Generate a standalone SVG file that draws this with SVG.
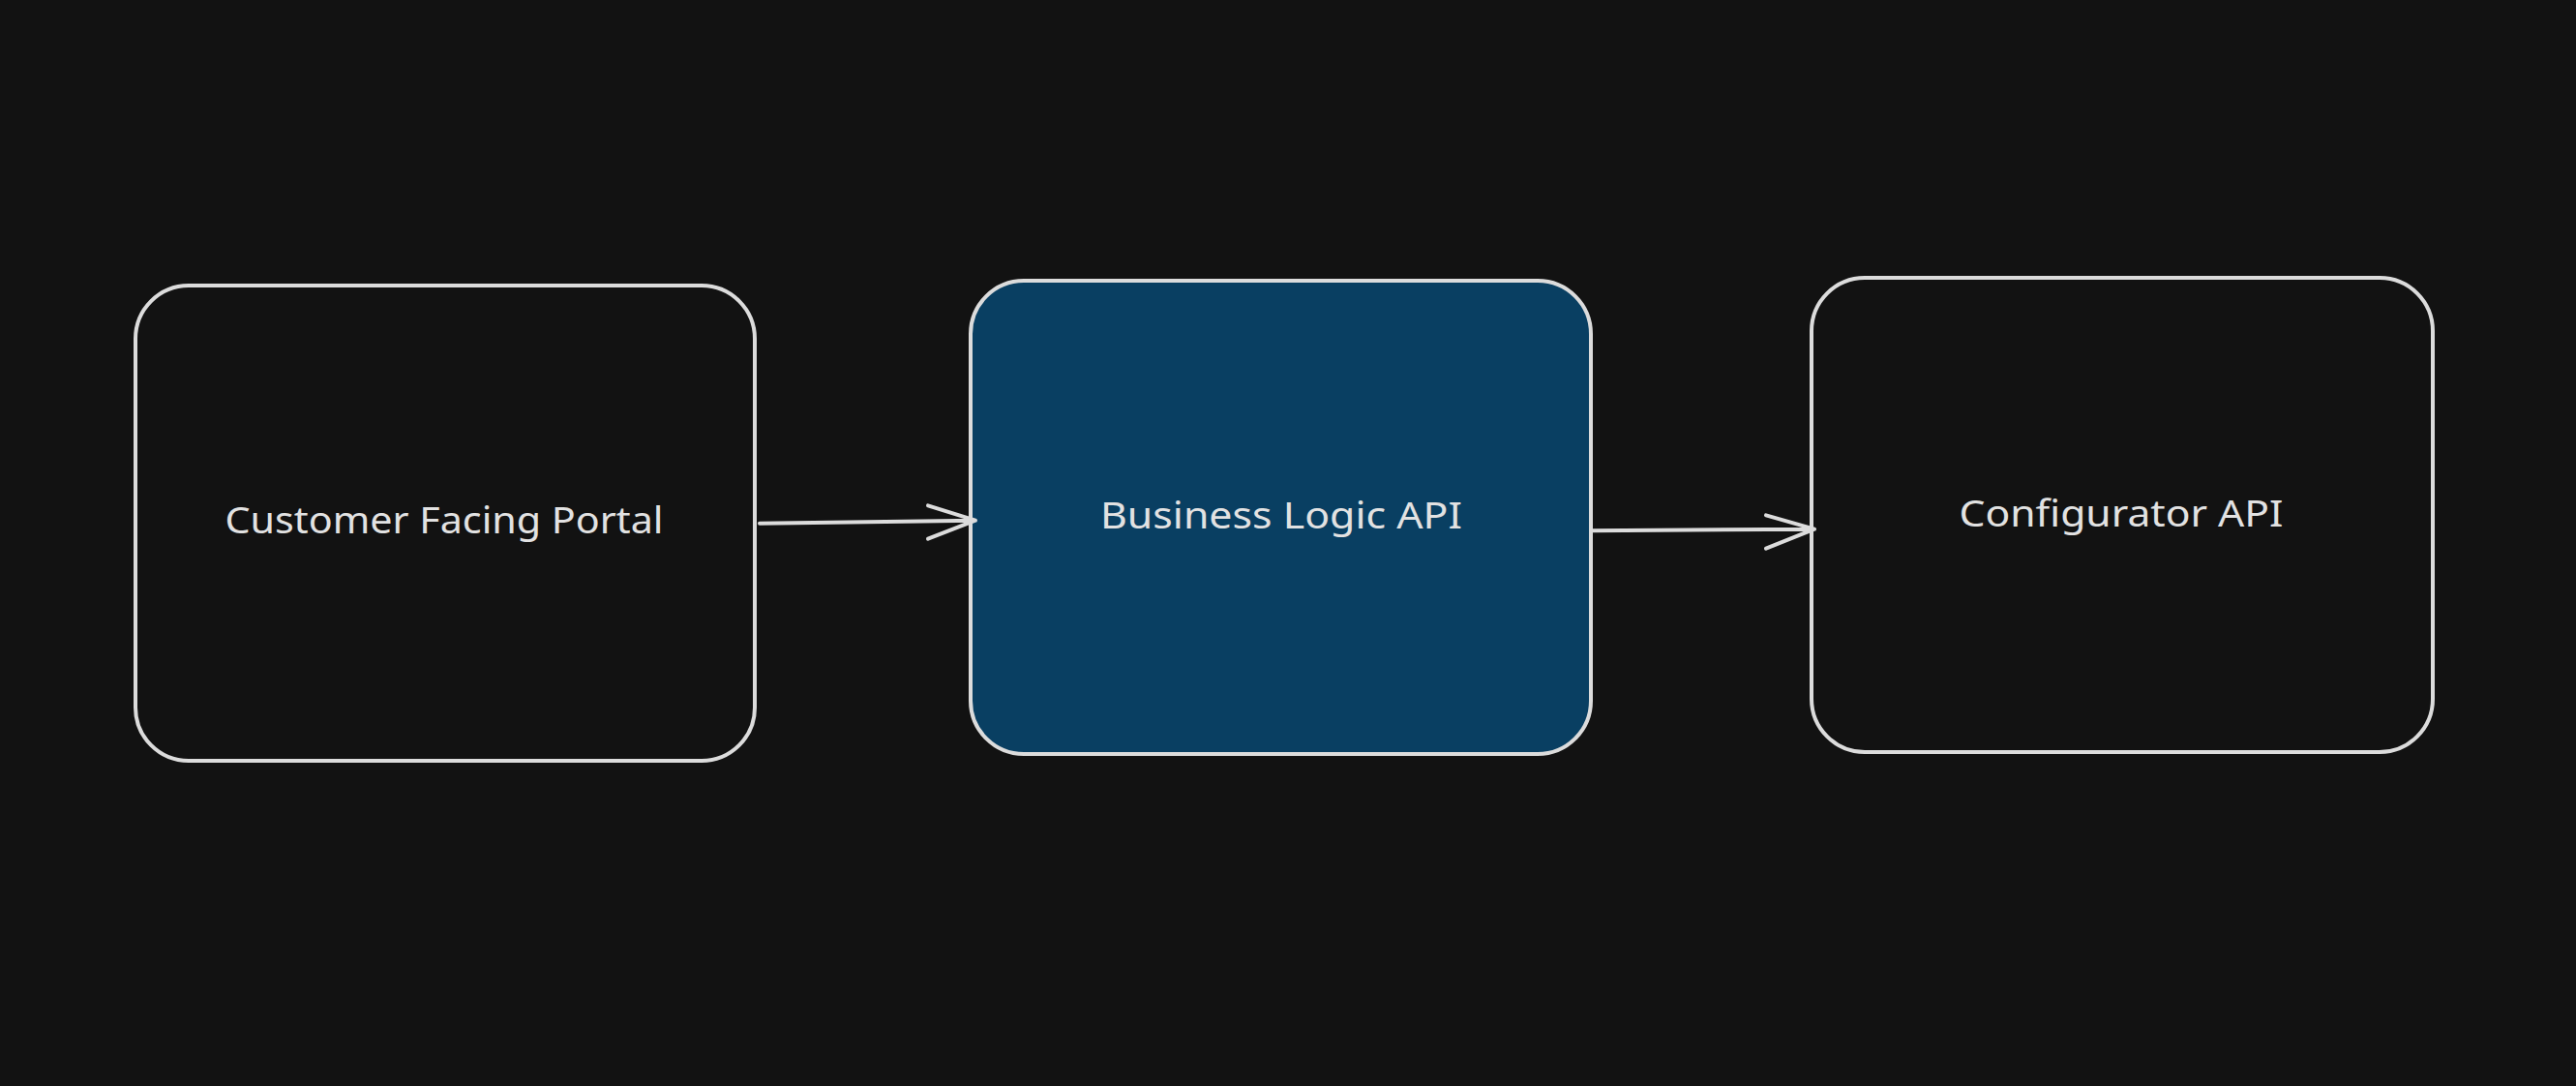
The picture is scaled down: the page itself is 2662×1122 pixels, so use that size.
<svg xmlns="http://www.w3.org/2000/svg" width="2662" height="1122" viewBox="0 0 2662 1122">
<style>
.box{stroke:#dcdcdc;stroke-width:4;stroke-linejoin:round}
.lbl{font-family:"Noto Sans","Liberation Sans",sans-serif;font-size:38px;fill:#e2e2e2;text-anchor:middle}
.conn{stroke:#dcdcdc;stroke-width:4;fill:none;stroke-linecap:round;stroke-linejoin:round}
</style>
<rect width="2662" height="1122" fill="#121212"/>
<g id="node-portal">
<rect class="box" x="140" y="295" width="640" height="491" rx="55" ry="55" fill="#121212"/>
<text class="lbl" x="459" y="551" textLength="453" lengthAdjust="spacingAndGlyphs">Customer Facing Portal</text>
</g>
<g id="node-business">
<rect class="box" x="1003" y="290" width="641" height="489" rx="55" ry="55" fill="#093f62"/>
<text class="lbl" x="1324" y="546" textLength="374" lengthAdjust="spacingAndGlyphs">Business Logic API</text>
</g>
<g id="node-configurator">
<rect class="box" x="1872" y="287" width="642" height="490" rx="55" ry="55" fill="#121212"/>
<text class="lbl" x="2192" y="544" textLength="335" lengthAdjust="spacingAndGlyphs">Configurator API</text>
</g>
<g id="connectors">
<path class="conn" d="M785 540.7 L1008 537.7 M959 522.3 L1008 537.7 L959 556.7"/>
<path class="conn" d="M1645 548.3 L1875 546.7 M1825 532.3 L1875 546.7 L1825 566.7"/>
</g>
</svg>
